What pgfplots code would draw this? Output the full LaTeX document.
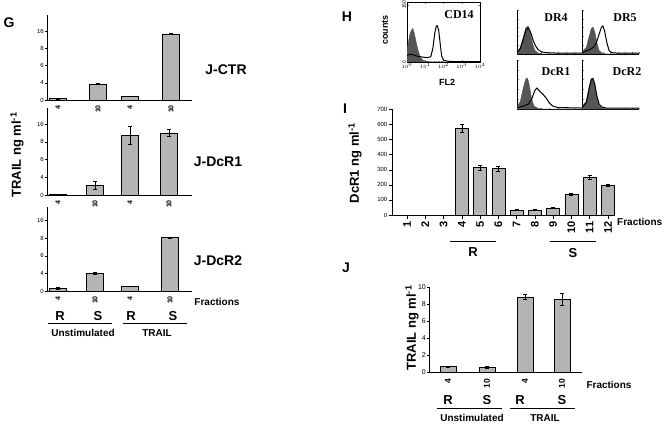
\documentclass[border=0pt]{standalone}
\usepackage{pgfplots}
\pgfplotsset{compat=1.18}
\usepackage{fontspec}
\setmainfont{Liberation Sans}
\newfontfamily\serif{Liberation Serif}
\definecolor{barc}{RGB}{180,180,180}
\definecolor{histc}{RGB}{85,85,85}
\pgfplotsset{
  barax/.style={scale only axis, anchor=south west, axis lines*=left,
    xtick style={draw=none}, ytick style={black, line width=0.4pt},
    tick align=outside, major tick length=2pt,
    /pgf/number format/assume math mode=true,
    yticklabel style={font=\fontsize{6}{7}\selectfont, inner sep=1pt},
    xticklabel style={rotate=90, anchor=east, font=\bfseries\fontsize{7}{8}\selectfont, inner sep=3pt},
    axis line style={line width=0.6pt}, clip=false},
  bp/.style={ybar, fill=barc, draw=black, line width=0.5pt,
    error bars/y dir=both, error bars/y explicit,
    error bars/error bar style={line width=0.5pt, black},
    error bars/error mark options={rotate=90, mark size=2pt, line width=0.5pt, black}},
  histax/.style={scale only axis, anchor=south west, xmin=0, xmax=4, ymin=0, ymax=1,
    xtick={0,0.5,...,4}, xticklabels={}, ytick={0,0.2,...,1}, yticklabels={},
    tick align=inside, major tick length=1.5pt, axis lines*=left,
    axis line style={line width=0.8pt}, clip=true},
  filled/.style={fill=histc, draw=histc},
  open/.style={black, line width=1pt, line join=round},
}
\begin{document}
\begin{tikzpicture}[x=1pt,y=1pt]
\useasboundingbox (0,0) rectangle (664,424);

% ---------------- Panel G ----------------
\begin{axis}[barax, at={(47pt,324pt)}, width=145pt, height=85pt,
  xmin=47, xmax=192, ymin=0, ymax=19.7,
  ytick={0,4,8,12,16}, yticklabels={0,4,6,8,16},
  xtick={58,98,130,171}, xticklabels={4,10,4,10}]
\addplot[bp, bar width=17] coordinates {(58,0.3) +- (0,0.05) (98,3.7) +- (0,0.15) (130,0.9) +- (0,0) (171,15.3) +- (0,0.15)};
\end{axis}
\begin{axis}[barax, at={(47pt,229pt)}, width=145pt, height=87pt,
  xmin=47, xmax=192, ymin=0, ymax=19.6,
  ytick={0,4,8,12,16}, yticklabels={0,4,6,8,16},
  xtick={58,95,130,169}, xticklabels={4,10,4,10}]
\addplot[bp, bar width=17] coordinates {(58,0.15) +- (0,0.05) (95,2.2) +- (0,0.8) (130,13.5) +- (0,2.0) (169,14.0) +- (0,0.8)};
\end{axis}
\begin{axis}[barax, at={(47pt,133pt)}, width=145pt, height=84pt,
  xmin=47, xmax=192, ymin=0, ymax=19.1,
  ytick={0,4,8,12,16}, yticklabels={0,4,6,8,16},
  xtick={58,95,130,170}, xticklabels={4,10,4,10}]
\addplot[bp, bar width=17] coordinates {(58,0.6) +- (0,0.3) (95,4.0) +- (0,0.3) (130,1.0) +- (0,0) (170,12.2) +- (0,0.1)};
\end{axis}
\node[font=\bfseries\fontsize{14}{16}\selectfont] at (9,401) {G};
\node[font=\bfseries\fontsize{14}{16}\selectfont] at (226,354) {J-CTR};
\node[font=\bfseries\fontsize{14}{16}\selectfont] at (218,262) {J-DcR1};
\node[font=\bfseries\fontsize{14}{16}\selectfont] at (218,163) {J-DcR2};
\node[rotate=90, font=\bfseries\fontsize{13}{15}\selectfont] at (17,269) {TRAIL ng ml\textsuperscript{-1}};
\node[font=\bfseries\fontsize{10}{12}\selectfont] at (217,122) {Fractions};
\foreach \x/\t in {60/R, 98/S, 131/R, 173/S}
  \node[font=\bfseries\fontsize{13}{15}\selectfont] at (\x,108) {\t};
\draw[line width=0.8pt] (48,101) -- (112,101);
\draw[line width=0.8pt] (123,101) -- (187,101);
\node[font=\bfseries\fontsize{10}{12}\selectfont] at (83,91) {Unstimulated};
\node[font=\bfseries\fontsize{10}{12}\selectfont] at (157,91) {TRAIL};

% ---------------- Panel H ----------------
\node[font=\bfseries\fontsize{14}{16}\selectfont] at (347,407) {H};
\begin{axis}[scale only axis, anchor=south west, at={(407pt,362pt)}, width=73pt, height=60pt,
  xmin=0, xmax=4, ymin=0, ymax=150, xtick={0,1,2,3,4},
  xticklabels={$10^0$,$10^1$,$10^2$,$10^3$,$10^4$},
  minor xtick={0.301,0.477,0.602,0.699,0.778,0.845,0.903,0.954,1.301,1.477,1.602,1.699,1.778,1.845,1.903,1.954,2.301,2.477,2.602,2.699,2.778,2.845,2.903,2.954,3.301,3.477,3.602,3.699,3.778,3.845,3.903,3.954},
  ytick={0,143}, yticklabels={0,150},
  xticklabel style={font=\fontsize{5}{6}\selectfont, inner sep=1pt},
  yticklabel style={font=\fontsize{5}{6}\selectfont, rotate=90, anchor=south, inner sep=1pt},
  tick align=inside, major tick length=2pt, minor tick length=1pt,
  axis line style={line width=0.7pt}, clip=true]
\addplot[filled] coordinates {(0,30) (0.08,50) (0.16,70) (0.25,80) (0.32,84) (0.4,72) (0.5,50) (0.6,30) (0.72,14) (0.85,5) (1.0,2) (1.3,0.5) (1.6,0) (4,0)} \closedcycle;
\addplot[open] coordinates {(0,16) (0.2,20) (0.4,17) (0.6,14) (0.9,12) (1.1,11) (1.3,13) (1.42,35) (1.52,72) (1.6,89) (1.66,91) (1.74,78) (1.82,45) (1.9,15) (2.0,5) (2.2,2) (2.6,1) (4,1)};
\end{axis}
\node[rotate=90, font=\bfseries\fontsize{9}{11}\selectfont] at (385,394) {counts};
\node[font=\bfseries\fontsize{9}{11}\selectfont] at (447,342) {FL2};
\node[font=\serif\bfseries\fontsize{12}{14}\selectfont] at (459,409) {CD14};

% DR4
\begin{axis}[histax, at={(517pt,370pt)}, width=65pt, height=44pt]
\addplot[filled] coordinates {(0,0.05) (0.2,0.15) (0.4,0.4) (0.55,0.6) (0.68,0.63) (0.8,0.5) (0.95,0.25) (1.1,0.08) (1.3,0.02) (1.6,0) (4,0)} \closedcycle;
\addplot[open] coordinates {(0,0.03) (0.2,0.12) (0.4,0.35) (0.55,0.55) (0.7,0.6) (0.85,0.48) (1.0,0.3) (1.15,0.18) (1.3,0.1) (1.5,0.05) (1.8,0.03) (2.5,0.02) (4,0.02)};
\end{axis}
% DR5
\begin{axis}[histax, at={(582pt,370pt)}, width=57pt, height=44pt]
\addplot[filled] coordinates {(0,0.05) (0.3,0.15) (0.5,0.4) (0.65,0.58) (0.77,0.61) (0.9,0.5) (1.05,0.25) (1.2,0.08) (1.4,0.02) (1.7,0) (4,0)} \closedcycle;
\addplot[open] coordinates {(0,0.03) (0.4,0.08) (0.8,0.15) (1.0,0.25) (1.2,0.45) (1.35,0.6) (1.47,0.64) (1.6,0.5) (1.75,0.25) (1.9,0.08) (2.1,0.03) (2.5,0.02) (4,0.02)};
\end{axis}
% DcR1
\begin{axis}[histax, at={(517pt,315pt)}, width=65pt, height=49pt]
\addplot[filled] coordinates {(0,0.05) (0.2,0.15) (0.4,0.45) (0.55,0.62) (0.65,0.63) (0.75,0.5) (0.9,0.2) (1.05,0.06) (1.3,0.01) (1.6,0) (4,0)} \closedcycle;
\addplot[open] coordinates {(0,0.03) (0.4,0.06) (0.7,0.1) (0.9,0.2) (1.1,0.38) (1.23,0.43) (1.4,0.36) (1.6,0.3) (1.8,0.22) (2.0,0.12) (2.2,0.06) (2.5,0.03) (4,0.02)};
\end{axis}
% DcR2
\begin{axis}[histax, at={(582pt,315pt)}, width=57pt, height=49pt]
\addplot[filled] coordinates {(0,0.05) (0.3,0.15) (0.5,0.45) (0.65,0.62) (0.77,0.63) (0.9,0.5) (1.05,0.22) (1.2,0.07) (1.4,0.02) (1.7,0) (4,0)} \closedcycle;
\addplot[open] coordinates {(0,0.03) (0.3,0.13) (0.5,0.42) (0.65,0.6) (0.77,0.62) (0.9,0.5) (1.05,0.26) (1.2,0.1) (1.4,0.04) (1.7,0.02) (4,0.02)};
\end{axis}
\node[font=\serif\bfseries\fontsize{12}{14}\selectfont] at (556,406) {DR4};
\node[font=\serif\bfseries\fontsize{12}{14}\selectfont] at (625,406) {DR5};
\node[font=\serif\bfseries\fontsize{12}{14}\selectfont] at (556,352) {DcR1};
\node[font=\serif\bfseries\fontsize{12}{14}\selectfont] at (627,352) {DcR2};

% ---------------- Panel I ----------------
\node[font=\bfseries\fontsize{14}{16}\selectfont] at (345,315) {I};
\begin{axis}[barax, at={(392pt,209pt)}, width=222pt, height=105.7pt,
  xmin=0.178, xmax=12.33, ymin=0, ymax=700,
  ytick={0,100,...,700}, xtick={1,...,12}, major tick length=3.5pt,
  xtick style={draw=black, line width=0.6pt},
  xticklabel style={font=\bfseries\fontsize{11}{12}\selectfont, inner sep=3pt}]
\addplot[bp, bar width=13pt] coordinates {(1,0) +- (0,0) (2,0) +- (0,0) (3,0) +- (0,0) (4,575) +- (0,25) (5,313) +- (0,15) (6,308) +- (0,15) (7,33) +- (0,3) (8,33) +- (0,3) (9,48) +- (0,4) (10,137) +- (0,8) (11,249) +- (0,12) (12,198) +- (0,8)};
\end{axis}
\node[rotate=90, font=\bfseries\fontsize{13}{15}\selectfont] at (355,261) {DcR1 ng ml\textsuperscript{-1}};
\node[anchor=west, font=\bfseries\fontsize{10}{12}\selectfont, inner sep=0pt] at (617,202) {Fractions};
\draw[line width=0.8pt] (450,183) -- (496,183);
\draw[line width=0.8pt] (550,183) -- (596,183);
\node[font=\bfseries\fontsize{13}{15}\selectfont] at (473,172) {R};
\node[font=\bfseries\fontsize{13}{15}\selectfont] at (573,171) {S};

% ---------------- Panel J ----------------
\node[font=\bfseries\fontsize{14}{16}\selectfont] at (346,156) {J};
\begin{axis}[barax, at={(429pt,52pt)}, width=153pt, height=85pt,
  xmin=429, xmax=582, ymin=0, ymax=10,
  ytick={0,2,...,10}, xtick={448,487,525,562}, xticklabels={4,10,4,10},
  yticklabel style={font=\fontsize{7}{8}\selectfont, inner sep=1pt},
  xticklabel style={font=\bfseries\fontsize{8.5}{9}\selectfont, inner sep=5pt}]
\addplot[bp, bar width=16] coordinates {(448,0.65) +- (0,0.05) (487,0.58) +- (0,0.08) (525,8.85) +- (0,0.25) (562,8.55) +- (0,0.7)};
\end{axis}
\node[rotate=90, font=\bfseries\fontsize{13}{15}\selectfont] at (412,96) {TRAIL ng ml\textsuperscript{-1}};
\node[font=\bfseries\fontsize{10}{12}\selectfont] at (609,39) {Fractions};
\foreach \x/\t in {448/R, 487/S, 520/R, 562/S}
  \node[font=\bfseries\fontsize{13}{15}\selectfont] at (\x,24) {\t};
\draw[line width=0.8pt] (437,16) -- (502,16);
\draw[line width=0.8pt] (510,16) -- (575,16);
\node[font=\bfseries\fontsize{10}{12}\selectfont] at (472,6) {Unstimulated};
\node[font=\bfseries\fontsize{10}{12}\selectfont] at (545,6) {TRAIL};
\end{tikzpicture}
\end{document}
